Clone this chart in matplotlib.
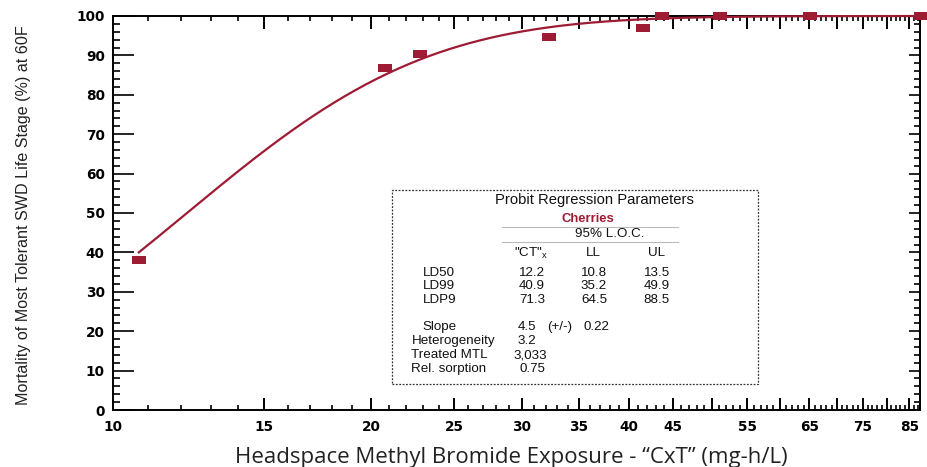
import math
import numpy as np
import matplotlib
matplotlib.use("Agg")
import matplotlib.pyplot as plt
from matplotlib.ticker import FixedLocator, NullFormatter, FixedFormatter

# ---- data ----
exposure = [10.72, 20.8, 22.8, 32.3, 41.6, 43.7, 51.1, 65.1, 87.7]
mortality = [38.1, 86.7, 90.4, 94.6, 96.9, 100.0, 100.0, 100.0, 100.0]

# probit parameters (from the table)
ld50 = 12.2
slope = 4.5

x_major = [10, 15, 20, 25, 30, 35, 40, 45, 50, 55, 60, 65, 70, 75, 80, 85]
x_labels = ["10", "15", "20", "25", "30", "35", "40", "45", "", "55", "", "65", "", "75", "", "85"]
x_minor = list(range(11, 88))
y_major = list(range(0, 101, 10))
y_minor = list(range(0, 101, 2))

row_names = ["LD50", "LD99", "LDP9"]
ct_vals = ["12.2", "40.9", "71.3"]
ll_vals = ["10.8", "35.2", "64.5"]
ul_vals = ["13.5", "49.9", "88.5"]
extra_names = ["Slope", "Heterogeneity", "Treated MTL", "Rel. sorption"]
extra_vals = ["4.5", "3.2", "3,033", "0.75"]

RED = "#9E1B34"

fig = plt.figure(figsize=(9.27, 4.67), dpi=100)
ax = fig.add_axes([113/927, 1-410/467, (920-113)/927, (410-16)/467])
ax.set_xscale("log")
ax.set_xlim(10, 87.5)
ax.set_ylim(0, 100)

# probit curve
xs = np.logspace(math.log10(exposure[0]), math.log10(87.5), 300)
z = slope * (np.log10(xs) - math.log10(ld50))
ys = 100 * 0.5 * (1 + np.vectorize(math.erf)(z / math.sqrt(2)))
ax.plot(xs, ys, color=RED, lw=1.6, zorder=3, clip_on=False)

rect = [(-1.75, -1), (1.75, -1), (1.75, 1), (-1.75, 1), (-1.75, -1)]
ax.plot(exposure, mortality, linestyle="none", marker=rect, markersize=10.5,
        color=RED, markeredgewidth=0, zorder=4, clip_on=False)

ax.xaxis.set_major_locator(FixedLocator(x_major))
ax.xaxis.set_major_formatter(FixedFormatter(x_labels))
ax.xaxis.set_minor_locator(FixedLocator(x_minor))
ax.xaxis.set_minor_formatter(NullFormatter())
ax.yaxis.set_major_locator(FixedLocator(y_major))
ax.yaxis.set_minor_locator(FixedLocator(y_minor))

for s in ax.spines.values():
    s.set_linewidth(1.4)

ax.tick_params(axis="x", which="major", direction="in", length=9, width=1.4,
               top=True, bottom=True, pad=7)
ax.tick_params(axis="x", which="minor", direction="in", length=3.8, width=1.2,
               top=True, bottom=True)
ax.tick_params(axis="y", which="major", direction="in", length=15, width=1.2,
               left=True, right=False, pad=6)
ax.tick_params(axis="y", which="minor", direction="in", length=5, width=1.2,
               left=True, right=False)
for lab in ax.get_xticklabels() + ax.get_yticklabels():
    lab.set_fontweight("bold")
    lab.set_fontsize(9.8)

sec = ax.secondary_yaxis("right")
sec.yaxis.set_major_locator(FixedLocator(y_major))
sec.yaxis.set_minor_locator(FixedLocator(y_minor))
sec.tick_params(which="major", direction="in", length=8, width=1.2, labelright=False)
sec.tick_params(which="minor", direction="in", length=4.5, width=1.2)
sec.spines["right"].set_linewidth(1.4)

ax.set_xlabel("Headspace Methyl Bromide Exposure - \u201cCxT\u201d (mg-h/L)",
              fontsize=16, family="Open Sans", color="#222222")
ax.xaxis.set_label_coords(0.493, -0.094)
ax.set_ylabel("Mortality of Most Tolerant SWD Life Stage (%) at 60F",
              fontsize=11.6, family="Liberation Sans", color="#222222")
ax.yaxis.set_label_coords(-0.102, 0.494)

# ---- parameter table box ----
def px(x, y):
    return (x / 927, 1 - y / 467)

box = plt.Rectangle(px(392, 384), (758-392)/927, (384-190)/467, transform=fig.transFigure,
                    fill=True, facecolor="white", edgecolor="#333333", lw=0.9,
                    linestyle=(0, (1.5, 1.2)), zorder=5)
fig.add_artist(box)

TF = dict(transform=fig.transFigure, family="Liberation Sans", zorder=6, color="#111111")
fs = 9.6
fig.text(*px(594, 200), "Probit Regression Parameters", ha="center", va="center", fontsize=10.6, **TF)
fig.text(*px(588, 219), "Cherries", ha="center", va="center", fontsize=9.4,
         fontweight="bold", transform=fig.transFigure, family="Liberation Sans",
         zorder=6, color=RED)
for yy in (227, 242):
    fig.add_artist(plt.Line2D([502/927, 678/927], [1-yy/467, 1-yy/467],
                              transform=fig.transFigure, color="#bbbbbb", lw=0.8, zorder=6))
fig.text(*px(610, 234), "95% L.O.C.", ha="center", va="center", fontsize=fs, **TF)
fig.text(*px(531, 253), "\"CT\"$_{\\mathregular{x}}$", ha="center", va="center", fontsize=fs, **TF)
fig.text(*px(593, 253), "LL", ha="center", va="center", fontsize=fs, **TF)
fig.text(*px(657, 253), "UL", ha="center", va="center", fontsize=fs, **TF)

row_y = [273, 286, 300]
for name, a, b, c, yy in zip(row_names, ct_vals, ll_vals, ul_vals, row_y):
    fig.text(*px(423, yy), name, ha="left", va="center", fontsize=fs, **TF)
    fig.text(*px(532, yy), a, ha="center", va="center", fontsize=fs, **TF)
    fig.text(*px(594, yy), b, ha="center", va="center", fontsize=fs, **TF)
    fig.text(*px(657, yy), c, ha="center", va="center", fontsize=fs, **TF)

extra_y = [327, 341, 355, 369]
extra_x = [422, 412, 411, 411]
extra_vx = [518, 518, 513, 519]
for name, v, yy, lx, vx in zip(extra_names, extra_vals, extra_y, extra_x, extra_vx):
    fig.text(*px(lx, yy), name, ha="left", va="center", fontsize=fs, **TF)
    fig.text(*px(vx, yy), v, ha="left", va="center", fontsize=fs, **TF)
fig.text(*px(547, 327), "(+/-)", ha="left", va="center", fontsize=fs, **TF)
fig.text(*px(584, 327), "0.22", ha="left", va="center", fontsize=fs, **TF)

fig.savefig("out.png", dpi=100)
